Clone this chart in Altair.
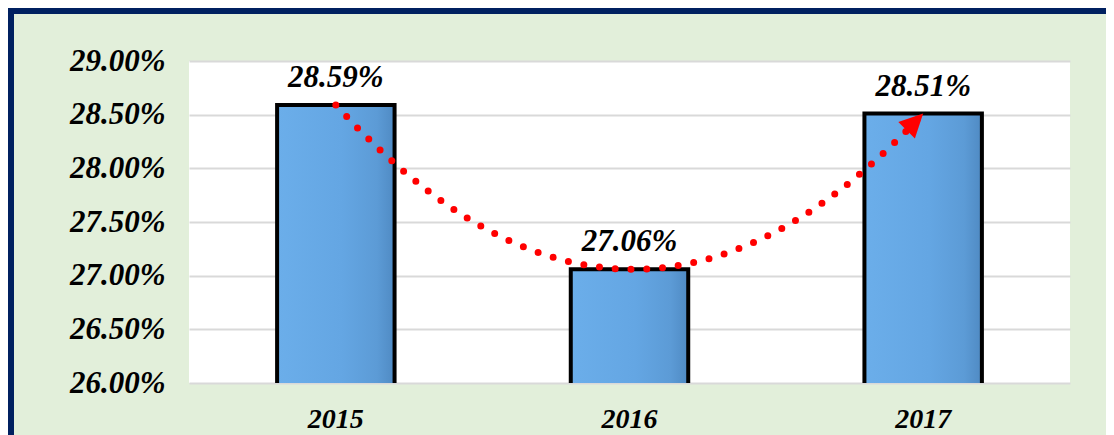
import altair as alt
import pandas as pd

# ---- data ----
years = ["2015", "2016", "2017"]
rates = [0.2859, 0.2706, 0.2851]
y_ticks = [0.26, 0.265, 0.27, 0.275, 0.28, 0.285, 0.29]
y_domain = [0.26, 0.29]

df = pd.DataFrame({"year": years, "rate": rates})

W, H = 881, 322
FONT = "Liberation Serif"

yscale = alt.Scale(domain=y_domain, zero=False, nice=False)
yaxis = alt.Axis(values=y_ticks, format=".2%", title=None, grid=True,
                 gridColor="#D9D9D9", gridWidth=2, labelFontSize=31,
                 labelPadding=24, domain=False, ticks=False)
yenc = alt.Y("rate:Q", scale=yscale, axis=yaxis)

xscale = alt.Scale(paddingInner=0.6, paddingOuter=0.3)
xband = alt.X("year:N", sort=years, scale=xscale,
              axis=alt.Axis(title=None, labelAngle=0, labelFontSize=28,
                            labelBaseline="alphabetic", labelPadding=44,
                            domain=False, ticks=False, grid=False))

base = alt.Chart(df)

# decorative frame
frame = alt.Chart(pd.DataFrame({"k": [0]})).mark_rect(
    fillOpacity=0, stroke="#002060", strokeWidth=6
).encode(x=alt.value(-178), x2=alt.value(W + 80),
         y=alt.value(-50), y2=alt.value(H + 100))

side_grad = alt.Gradient(
    gradient="linear", x1=0, x2=1, y1=0, y2=0,
    stops=[alt.GradientStop(color="#6BAEEA", offset=0),
           alt.GradientStop(color="#64A6E3", offset=0.55),
           alt.GradientStop(color="#5C9BD6", offset=0.85),
           alt.GradientStop(color="#4F8AC3", offset=1)])

bars = base.mark_bar(color=side_grad, stroke="black", strokeWidth=4,
                     clip=True).encode(x=xband, y=yenc)

labels = base.mark_text(font=FONT, fontSize=31, fontStyle="italic",
                        fontWeight="bold", baseline="alphabetic", dy=-18,
                        color="black").encode(
    x=xband, y=yenc, text=alt.Text("rate:Q", format=".2%"))

bar_layer = alt.layer(bars, labels)

xq = alt.X("idx:Q", scale=alt.Scale(domain=[0.5, 3.5], nice=False, zero=False),
           axis=None)

curve = base.transform_window(idx="row_number()").transform_regression(
    "idx", "rate", method="poly", order=2
).mark_line(color="#FF0000", strokeWidth=7, strokeDash=[0, 15.8],
            strokeCap="round").encode(x=xq, y=yenc)

arrow = base.transform_window(idx="row_number()").transform_filter(
    alt.datum.year == years[-1]
).mark_point(shape="M0,0 L-1,2 L1,2 Z", size=550, angle=45, filled=True,
             color="#FF0000", opacity=1, strokeWidth=0).encode(x=xq, y=yenc)

trend = alt.layer(curve, arrow)

chart = alt.layer(frame, bar_layer, trend).resolve_scale(
    x="independent"
).properties(
    width=W, height=H,
    autosize=alt.AutoSizeParams(type="none"),
    padding={"left": 181, "top": 53, "right": 36, "bottom": 60},
    background="#E2EFDA",
).configure_view(fill="white", strokeWidth=0).configure_axis(
    labelFont=FONT, labelFontStyle="italic", labelFontWeight="bold",
    labelColor="black")

chart.save("out.html", embed_options={"renderer": "svg", "actions": False})
